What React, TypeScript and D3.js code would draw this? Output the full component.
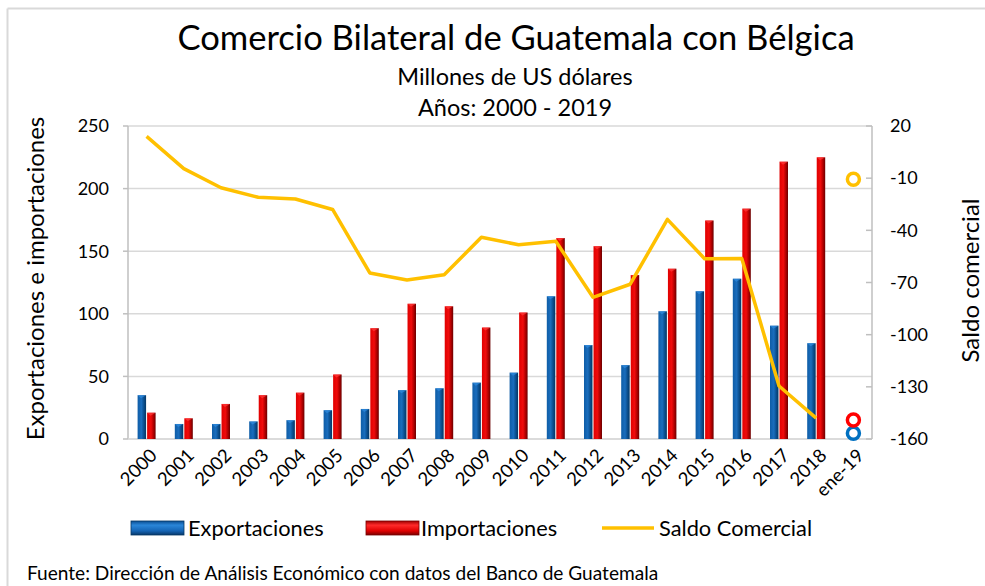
import React from "react";
import * as d3 from "d3";

const categories = ["2000","2001","2002","2003","2004","2005","2006","2007","2008","2009","2010","2011","2012","2013","2014","2015","2016","2017","2018","ene-19"];
const exportaciones = [35, 12, 12, 14, 15, 23, 24, 39, 40.5, 45, 53, 114, 75, 59, 102, 118, 128, 90.5, 76.5, 4.6];
const importaciones = [21, 16.5, 28, 35, 37, 51.5, 88.5, 108, 106, 89, 101, 160.5, 154, 131, 136, 174.5, 184, 221.5, 225, 15.2];
const saldo = [14, -4.5, -15.5, -21, -22, -28, -64.5, -68.6, -65.6, -44, -48.3, -46.3, -78.5, -71, -33.7, -56.3, -56.2, -129.5, -148, -10.6];
const leftTicks = [0, 50, 100, 150, 200, 250];
const rightTicks = [20, -10, -40, -70, -100, -130, -160];

const FONT = "Lato, 'Open Sans', sans-serif";

export default function App() {
  const W = 985, H = 586;
  const left = 128, right = 872, top = 126, bottom = 439;
  const x0 = d3.scaleBand<string>().domain(categories).range([left, right]);
  const xi = d3.scaleBand<string>().domain(["exp", "imp"]).range([0, 18]).paddingInner(0.11);
  const yL = d3.scaleLinear().domain([0, 250]).range([bottom, top]);
  const yR = d3.scaleLinear().domain([-160, 20]).range([bottom, top]);
  const cx = (c: string) => (x0(c) as number) + x0.bandwidth() / 2;
  const off = (x0.bandwidth() - 18) / 2;
  const nYears = categories.length - 1;
  const lineData = saldo.slice(0, nYears).map((v, i) => [cx(categories[i]), yR(v)] as [number, number]);
  const line = d3.line().curve(d3.curveLinear)(lineData) || "";
  const last = categories[nYears];

  return (
    <svg width={W} height={H} style={{ position: "absolute", left: 0, top: 0, background: "#fff" }} fontFamily={FONT}>
      <defs>
        <linearGradient id="gBlue" x1="0" x2="1" y1="0" y2="0">
          <stop offset="0" stopColor="#0f5da6" />
          <stop offset="0.45" stopColor="#1a6dbd" />
          <stop offset="0.75" stopColor="#0a4d8c" />
          <stop offset="1" stopColor="#063764" />
        </linearGradient>
        <linearGradient id="gRed" x1="0" x2="1" y1="0" y2="0">
          <stop offset="0" stopColor="#e00000" />
          <stop offset="0.45" stopColor="#f00c0c" />
          <stop offset="0.75" stopColor="#b00000" />
          <stop offset="1" stopColor="#6a0000" />
        </linearGradient>
        <linearGradient id="gBlueL" x1="0" x2="0" y1="0" y2="1">
          <stop offset="0" stopColor="#0a4e92" />
          <stop offset="0.3" stopColor="#2a86d8" />
          <stop offset="0.7" stopColor="#1565b5" />
          <stop offset="1" stopColor="#07386a" />
        </linearGradient>
        <linearGradient id="gRedL" x1="0" x2="0" y1="0" y2="1">
          <stop offset="0" stopColor="#a00000" />
          <stop offset="0.3" stopColor="#ff2a2a" />
          <stop offset="0.7" stopColor="#e00000" />
          <stop offset="1" stopColor="#7a0000" />
        </linearGradient>
      </defs>
      <rect x={0} y={0} width={W} height={H} fill="#fff" />
      {/* frame */}
      <line x1={7.5} y1={8.5} x2={W} y2={8.5} stroke="#d9d9d9" strokeWidth={2} />
      <line x1={7.5} y1={8.5} x2={7.5} y2={H} stroke="#d9d9d9" strokeWidth={2} />

      {/* titles */}
      <text x={516} y={50} textAnchor="middle" fontSize={34.6} fill="#000">Comercio Bilateral de Guatemala con Bélgica</text>
      <text x={515} y={85} textAnchor="middle" fontSize={23.5} fill="#000">Millones de US dólares</text>
      <text x={515} y={116} textAnchor="middle" fontSize={23.5} fill="#000">Años: 2000 - 2019</text>

      {/* gridlines */}
      {leftTicks.map((t) => (
        <line key={"g" + t} x1={left} x2={right} y1={yL(t)} y2={yL(t)} stroke="#d9d9d9" strokeWidth={1.5} />
      ))}
      {/* axes */}
      <line x1={left} x2={left} y1={top} y2={bottom} stroke="#bfbfbf" strokeWidth={1.5} />
      <line x1={right} x2={right} y1={top} y2={bottom} stroke="#bfbfbf" strokeWidth={1.5} />
      <line x1={left} x2={right} y1={bottom} y2={bottom} stroke="#d9d9d9" strokeWidth={1.5} />
      {leftTicks.map((t) => (
        <line key={"lt" + t} x1={left - 5} x2={left} y1={yL(t)} y2={yL(t)} stroke="#bfbfbf" strokeWidth={1.5} />
      ))}
      {rightTicks.map((t) => (
        <line key={"rt" + t} x1={right - 6} x2={right} y1={yR(t)} y2={yR(t)} stroke="#bfbfbf" strokeWidth={1.5} />
      ))}
      {leftTicks.map((t) => (
        <text key={"ll" + t} x={109} y={yL(t)} dy="0.35em" textAnchor="end" fontSize={18} fill="#000">{t}</text>
      ))}
      {rightTicks.map((t) => (
        <text key={"rl" + t} x={890} y={yR(t)} dy="0.35em" textAnchor="start" fontSize={18} fill="#000">{t}</text>
      ))}

      {/* bars */}
      {categories.slice(0, nYears).map((c, i) => {
        const bx = (x0(c) as number) + off;
        const ex = bx + (xi("exp") as number);
        const ix = bx + (xi("imp") as number);
        const w = xi.bandwidth();
        return (
          <g key={"b" + c}>
            <rect x={ex} y={yL(exportaciones[i])} width={w} height={yL(0) - yL(exportaciones[i])} fill="url(#gBlue)" />
            <path d={`M${ex},${yL(exportaciones[i])} L${ex + w},${yL(exportaciones[i])} L${ex + w * 0.4},${yL(exportaciones[i]) + 3} Z`} fill="#2f8be0" opacity={0.7} />
            <rect x={ix} y={yL(importaciones[i])} width={w} height={yL(0) - yL(importaciones[i])} fill="url(#gRed)" />
            <path d={`M${ix},${yL(importaciones[i])} L${ix + w},${yL(importaciones[i])} L${ix + w * 0.4},${yL(importaciones[i]) + 3} Z`} fill="#ff3a3a" opacity={0.7} />
          </g>
        );
      })}

      {/* saldo line */}
      <path d={line} fill="none" stroke="#ffc000" strokeWidth={3.5} strokeLinejoin="round" />

      {/* ene-19 markers */}
      <circle cx={cx(last)} cy={yL(exportaciones[nYears])} r={6} fill="#fff" stroke="#0070c0" strokeWidth={3.5} />
      <circle cx={cx(last)} cy={yL(importaciones[nYears])} r={6} fill="#fff" stroke="#ff0000" strokeWidth={3.5} />
      <circle cx={cx(last)} cy={yR(saldo[nYears])} r={6} fill="#fff" stroke="#ffc000" strokeWidth={3.5} />

      {/* x labels */}
      {categories.map((c) => (
        <text key={"xl" + c} transform={`translate(${cx(c) + 7},${bottom + 13}) rotate(-45)`} textAnchor="end" dy="0.35em" fontSize={18.5} fill="#000">{c}</text>
      ))}

      {/* axis titles */}
      <text transform={`translate(44,${(top + bottom) / 2 - 4}) rotate(-90)`} textAnchor="middle" fontSize={24} fill="#000">Exportaciones e importaciones</text>
      <text transform={`translate(979,${(top + bottom) / 2 - 2}) rotate(-90)`} textAnchor="middle" fontSize={24} fill="#000">Saldo comercial</text>

      {/* legend */}
      <rect x={131} y={521} width={53} height={14} fill="url(#gBlueL)" stroke="#063764" strokeWidth={0.8} />
      <text x={188} y={536} fontSize={21.8} fill="#000">Exportaciones</text>
      <rect x={366} y={521} width={53} height={14} fill="url(#gRedL)" stroke="#7a0000" strokeWidth={0.8} />
      <text x={421} y={536} fontSize={21.8} fill="#000">Importaciones</text>
      <line x1={602} x2={654} y1={528} y2={528} stroke="#ffc000" strokeWidth={3.5} />
      <text x={659} y={536} fontSize={21.8} fill="#000">Saldo Comercial</text>

      {/* source */}
      <text x={27} y={580} fontSize={19.1} fill="#000">Fuente: Dirección de Análisis Económico con datos del Banco de Guatemala</text>
    </svg>
  );
}
